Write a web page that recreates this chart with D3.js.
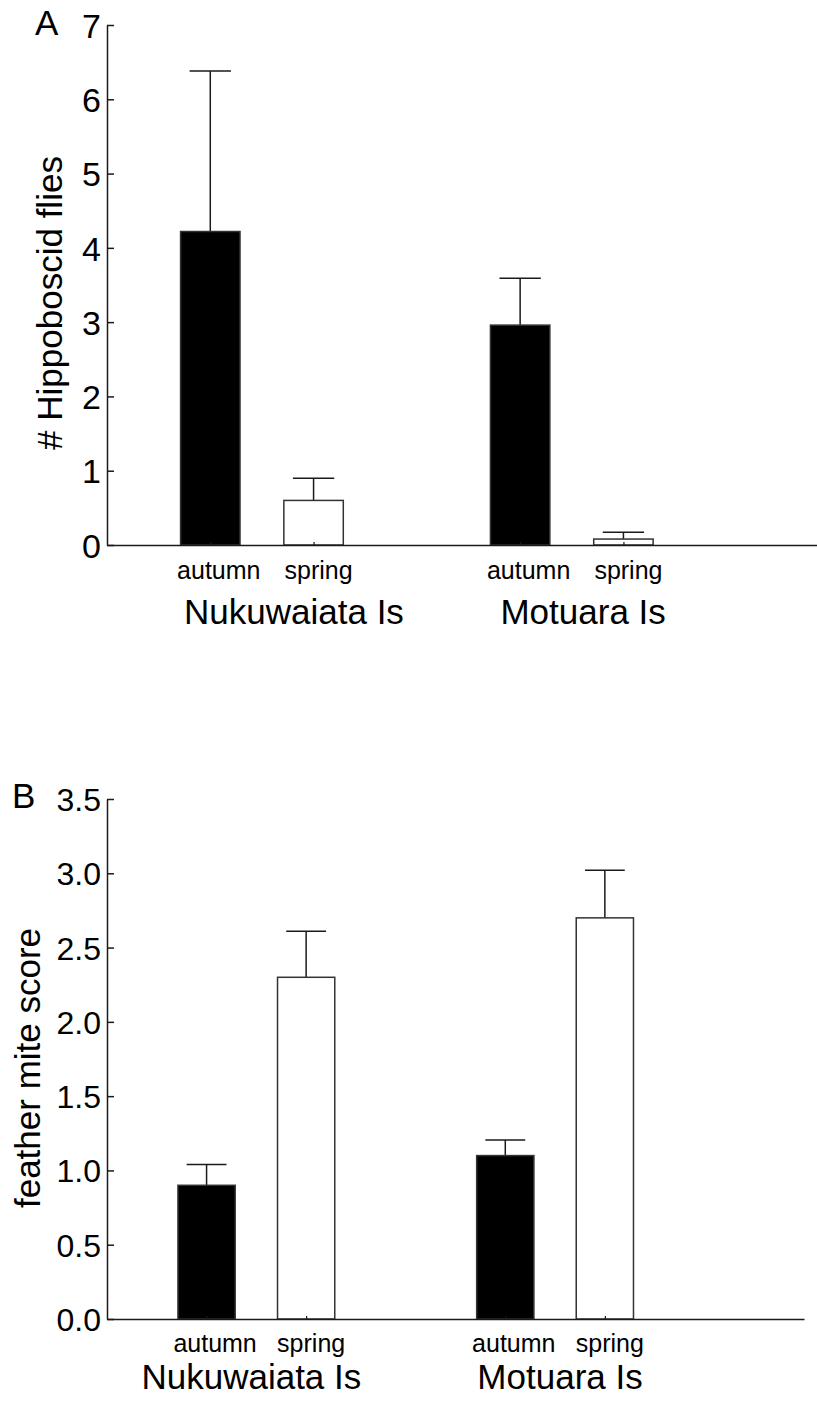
<!DOCTYPE html>
<html>
<head>
<meta charset="utf-8">
<script src="https://cdn.jsdelivr.net/npm/d3@7"></script>
<style>
  html, body { margin: 0; padding: 0; background: #fff; }
  svg { display: block; }
  text { font-family: "Liberation Sans", Arial, sans-serif; fill: #000; }
</style>
</head>
<body>
<svg id="chart" width="817" height="1405"></svg>
<script>
// Islands and sampling seasons
const islands = ["Nukuwaiata Is", "Motuara Is"];
const seasons = ["autumn", "spring"];

// Panel A: hippoboscid flies per bird (mean, standard error), ordered island x season
const fliesMean = [4.22, 0.60, 2.96, 0.08];
const fliesSE   = [2.16, 0.30, 0.63, 0.09];
const fliesTicks = [0, 1, 2, 3, 4, 5, 6, 7];

// Panel B: feather mite score (mean, standard error)
const miteMean = [0.90, 2.30, 1.10, 2.70];
const miteSE   = [0.14, 0.31, 0.105, 0.32];
const miteTicks = [0, 0.5, 1.0, 1.5, 2.0, 2.5, 3.0, 3.5];

const svg = d3.select("#chart");
const FONT = "'Liberation Sans', Arial, sans-serif";
const INK = "#1a1a1a";

function drawPanel(cfg) {
  const g = svg.append("g");

  // x positions are measured in bar slots; islands are separated by an empty slot
  const x = d3.scaleLinear().domain([0, 7]).range([cfg.left, cfg.right]);
  const y = d3.scaleLinear().domain([0, cfg.yMax]).range([cfg.bottom, cfg.top]);
  const slotW = x(1) - x(0);

  const rows = [];
  islands.forEach((isl, i) => {
    seasons.forEach((s, j) => {
      const k = i * 2 + j;
      rows.push({ island: isl, season: s, slot: i * 3 + j + 1,
                  mean: cfg.mean[k], se: cfg.se[k] });
    });
  });

  const barW = slotW * 0.59;
  const capW = slotW * 0.40;

  // error bars (upper only), drawn beneath the bars
  g.selectAll("line.err").data(rows).join("line")
    .attr("x1", d => x(d.slot)).attr("x2", d => x(d.slot))
    .attr("y1", d => y(d.mean)).attr("y2", d => y(d.mean + d.se))
    .attr("stroke", INK).attr("stroke-width", 1.5);
  g.selectAll("line.cap").data(rows).join("line")
    .attr("x1", d => x(d.slot) - capW / 2).attr("x2", d => x(d.slot) + capW / 2)
    .attr("y1", d => y(d.mean + d.se)).attr("y2", d => y(d.mean + d.se))
    .attr("stroke", INK).attr("stroke-width", 1.5);

  // bars: autumn filled black, spring open
  g.selectAll("rect.bar").data(rows).join("rect")
    .attr("x", d => x(d.slot) - barW / 2 + 0.75)
    .attr("width", barW - 1.5)
    .attr("y", d => y(d.mean))
    .attr("height", d => y(0) - y(d.mean))
    .attr("fill", d => d.season === "autumn" ? "#000" : "#fff")
    .attr("stroke", "#333").attr("stroke-width", 1.5);

  // x axis with short inward ticks at each bar
  const xAxis = d3.axisBottom(x)
    .tickValues(rows.map(d => d.slot))
    .tickFormat("")
    .tickSizeInner(-3).tickSizeOuter(0);
  const gx = g.append("g").attr("transform", `translate(0,${y(0)})`).call(xAxis);
  gx.select(".domain").attr("stroke", INK).attr("stroke-width", 1.5);
  gx.selectAll(".tick line").attr("stroke", INK).attr("stroke-width", 1.2);

  // y axis with inward ticks
  const yAxis = d3.axisLeft(y)
    .tickValues(cfg.ticks)
    .tickFormat(cfg.fmt)
    .tickSizeInner(-7).tickSizeOuter(0).tickPadding(6);
  const gy = g.append("g").attr("transform", `translate(${cfg.left},0)`).call(yAxis);
  gy.select(".domain").attr("stroke", INK).attr("stroke-width", 1.5);
  gy.selectAll(".tick line").attr("stroke", INK).attr("stroke-width", 1.5);
  gy.selectAll(".tick text")
    .attr("font-family", FONT).attr("font-size", cfg.tickFont).attr("fill", "#000")
    .attr("dy", "0.36em");

  // season labels under each bar
  g.selectAll("text.season").data(rows).join("text")
    .attr("x", d => x(d.slot) + (d.season === "autumn" ? 8.5 : 5))
    .attr("y", y(0) + cfg.seasonDy)
    .attr("text-anchor", "middle")
    .attr("font-size", 25)
    .text(d => d.season);

  // island labels
  g.selectAll("text.island").data(islands).join("text")
    .attr("x", (d, i) => x(cfg.islandSlots[i]))
    .attr("y", y(0) + cfg.islandDy)
    .attr("text-anchor", "middle")
    .attr("font-size", 35)
    .text(d => d);

  // y axis title
  g.append("text")
    .attr("transform", `translate(${cfg.titleX},${cfg.titleY}) rotate(-90)`)
    .attr("text-anchor", "middle")
    .attr("font-size", 35)
    .text(cfg.yTitle);

  // panel letter
  g.append("text")
    .attr("x", cfg.letterX).attr("y", cfg.letterY)
    .attr("font-size", 35)
    .text(cfg.letter);
}

drawPanel({
  letter: "A", letterX: 35, letterY: 35,
  yTitle: "# Hippoboscid flies", titleX: 62, titleY: 303,
  mean: fliesMean, se: fliesSE, ticks: fliesTicks, yMax: 7,
  fmt: d3.format("d"), tickFont: 34,
  left: 107, right: 830, top: 25, bottom: 545,
  seasonDy: 34, islandDy: 79, islandSlots: [1.81, 4.61]
});

drawPanel({
  letter: "B", letterX: 12, letterY: 808,
  yTitle: "feather mite score", titleX: 40, titleY: 1068,
  mean: miteMean, se: miteSE, ticks: miteTicks, yMax: 3.5,
  fmt: d3.format(".1f"), tickFont: 32,
  left: 107, right: 804, top: 799, bottom: 1319,
  seasonDy: 33, islandDy: 70, islandSlots: [1.45, 4.55]
});
</script>
</body>
</html>
